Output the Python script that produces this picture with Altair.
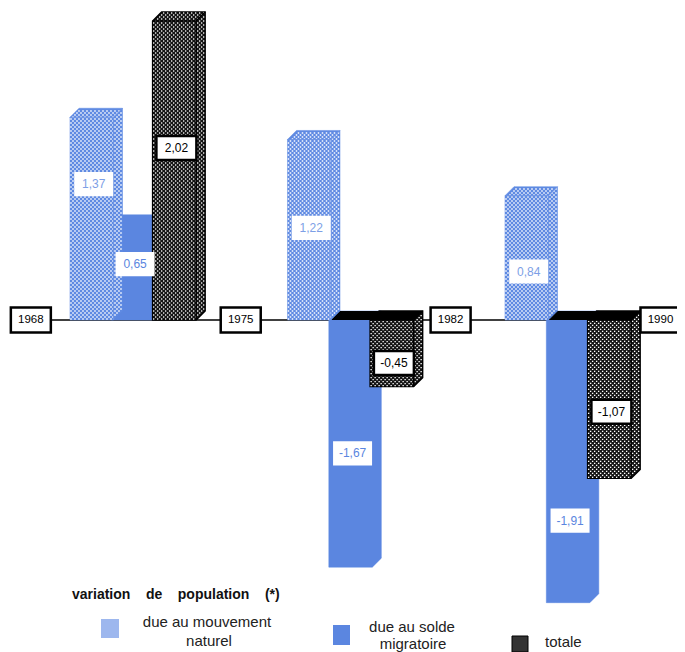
import altair as alt
import numpy as np
import pandas as pd

# ---------------- data ----------------
periods = ["1968-1975", "1975-1982", "1982-1990"]
years = ["1968", "1975", "1982", "1990"]
series = ["naturel", "migratoire", "totale"]
natural = [1.37, 1.22, 0.84]
migratory = [0.65, -1.67, -1.91]
total = [2.02, -0.45, -1.07]

# ---------------- layout ----------------
W, H = 669, 644
PXX, PXY = 217.5, 148.0          # pixels per x unit / per y unit
X0 = -0.285
XD = [X0, X0 + W / PXX]
ZERO_PX = 312
YD = [-(H - ZERO_PX) / PXY, ZERO_PX / PXY]
BW = 0.2                          # bar front width (x units)
PITCH = 0.19                      # distance between bars of a group
DPX = 9                           # 3D depth in pixels
DX = DPX / PXX
DY = DPX / PXY
# where each value box sits, as a fraction of its bar
label_frac = {"naturel": [0.67, 0.51, 0.39],
              "migratoire": [0.58, 0.54, 0.71],
              "totale": [0.575, 0.645, 0.58]}

fill = {"naturel": "#5f8ae2", "migratoire": "#5b86e0", "totale": "#141414"}
edge = {"naturel": "#6f95e4", "totale": "#000000"}
dot_size = {"naturel": 2.2, "totale": 1.8}
vals = {"naturel": natural, "migratoire": migratory, "totale": total}
textured = {"naturel", "totale"}

sil, tops, edges, labs, dots = [], [], [], [], []
bwp = BW * PXX
for p in range(len(periods)):
    for i, s in enumerate(series):
        v = vals[s][p]
        x0 = p + i * PITCH
        x1 = x0 + BW
        pid = f"{s}{p}"
        if v >= 0:
            pts = [(x0, 0, v), (x0 + DX, 0, v + DY), (x1, 0, v + DY), (x1 + DX, DY, v + DY)]
            eds = [(x0, v, x1, v), (x1, v, x1, 0), (x1, v, x1 + DX, v + DY)]
        else:
            pts = [(x0, v, 0), (x0 + DX, v, DY), (x1, v, DY), (x1 + DX, v + DY, DY)]
            tp = [(x0, 0, 0), (x0 + DX, 0, DY), (x1, 0, DY), (x1 + DX, DY, DY)]
            for (a, b, c) in tp:
                tops.append({"s": s, "id": pid, "x": a, "lo": b, "hi": c})
            eds = [(x0, 0, x1, 0), (x1, 0, x1, v), (x1, 0, x1 + DX, DY)]
        for (a, b, c) in pts:
            sil.append({"s": s, "id": pid, "x": a, "lo": b, "hi": c})
        for (a, b, c, d) in eds:
            edges.append({"s": s, "x": a, "y": b, "x2": c, "y2": d})
        labs.append({"s": s, "x": x0 + BW / 2 + 2 / PXX, "y": label_frac[s][p] * v,
                     "t": f"{v:.2f}".replace(".", ",")})
        if s in textured:
            # halftone texture of the printed bar, in pixel space inside the 3D silhouette
            V = v * PXY
            us = np.arange(1.0, bwp + DPX, 2.0)
            ws = np.arange(min(0, V) + 1.0, max(0, V) + DPX, 2.0)
            uu, ww = np.meshgrid(us, ws)
            ii, jj = np.meshgrid(np.arange(len(us)), np.arange(len(ws)))
            if V >= 0:
                lo = np.maximum(0, uu - bwp)
                hi = np.minimum(V + uu, V + DPX)
            else:
                lo = V + np.maximum(0, uu - bwp)
                hi = np.minimum(uu, DPX)
            m = ((ii + jj) % 2 == 0) & (ww > lo + 0.8) & (ww < hi - 0.8)
            for a, b in zip(uu[m], ww[m]):
                dots.append({"s": s, "x": x0 + a / PXX, "y": b / PXY})

sil = pd.DataFrame(sil)
tops = pd.DataFrame(tops)
edges = pd.DataFrame(edges)
labs = pd.DataFrame(labs)
dots = pd.DataFrame(dots)
yrs = pd.DataFrame({"year": years, "x": [0.965 * k - 0.18 for k in range(len(years))], "y": 0.0})
base_line = pd.DataFrame({"x": [yrs.x.min()], "x2": [yrs.x.max()], "y": [0.0]})

xs = alt.Scale(domain=XD, nice=False, zero=False)
ys = alt.Scale(domain=YD, nice=False, zero=False)
X = lambda f: alt.X(f"{f}:Q", scale=xs, axis=None)
Y = lambda f: alt.Y(f"{f}:Q", scale=ys, axis=None)

FONT = "Liberation Sans"
layers = []

# zero line
layers.append(alt.Chart(base_line).mark_rule(color="black", strokeWidth=1.5).encode(
    x=X("x"), x2="x2:Q", y=Y("y")))

for s in ["migratoire", "naturel", "totale"]:
    d = sil[sil.s == s]
    layers.append(alt.Chart(d).mark_area(
        color=fill[s], interpolate="linear",
        stroke="black" if s == "totale" else fill[s],
        strokeWidth=1.5 if s == "totale" else 0.5).encode(
        x=X("x"), y=Y("lo"), y2="hi:Q", detail="id:N"))
    if s in textured:
        layers.append(alt.Chart(dots[dots.s == s]).mark_square(
            size=dot_size[s], color="white", opacity=1, strokeWidth=0).encode(x=X("x"), y=Y("y")))
    t = tops[tops.s == s]
    if len(t):
        layers.append(alt.Chart(t).mark_area(color="black", interpolate="linear").encode(
            x=X("x"), y=Y("lo"), y2="hi:Q", detail="id:N"))
    if s in edge:
        e = edges[edges.s == s]
        layers.append(alt.Chart(e).mark_rule(color=edge[s], strokeWidth=1.5 if s == "totale" else 1).encode(
            x=X("x"), y=Y("y"), x2="x2:Q", y2="y2:Q"))

# value labels
lab_blue = labs[labs.s != "totale"]
lab_tot = labs[labs.s == "totale"]
layers.append(alt.Chart(lab_blue).mark_point(
    shape="M-1,-0.6H1V0.6H-1Z", filled=True, fill="white", stroke="white",
    size=1369, opacity=1).encode(x=X("x"), y=Y("y")))
layers.append(alt.Chart(lab_blue).mark_text(font=FONT, fontSize=12, baseline="middle").encode(
    x=X("x"), y=Y("y"), text="t:N",
    color=alt.Color("s:N", scale=alt.Scale(domain=["naturel", "migratoire"],
                                            range=["#7d9fe6", "#5b86e0"]), legend=None)))
layers.append(alt.Chart(lab_tot).mark_point(
    shape="M-1,-0.6H1V0.6H-1Z", filled=True, fill="white", stroke="black", strokeWidth=2.5,
    size=1600, opacity=1).encode(x=X("x"), y=Y("y")))
layers.append(alt.Chart(lab_tot).mark_text(font=FONT, fontSize=12, color="black", baseline="middle").encode(
    x=X("x"), y=Y("y"), text="t:N"))

# year boxes
layers.append(alt.Chart(yrs).mark_point(
    shape="M-1,-0.62H1V0.62H-1Z", filled=True, fill="white", stroke="black", strokeWidth=2.5,
    size=1600, opacity=1).encode(x=X("x"), y=Y("y")))
layers.append(alt.Chart(yrs).mark_text(font=FONT, fontSize=11.5, color="black", baseline="middle").encode(
    x=X("x"), y=Y("y"), text="year:N"))

# legend
one = pd.DataFrame({"a": [0]})
NB = "\u00a0" * 4
layers.append(alt.Chart(one).mark_text(
    text=f"variation{NB}de{NB}population{NB}(*)", font=FONT, fontSize=14, fontWeight="bold",
    align="left", baseline="alphabetic", color="#111111").encode(x=alt.value(64), y=alt.value(591)))
layers.append(alt.Chart(one).mark_rect(color="#9db7ee").encode(
    x=alt.value(93), x2=alt.value(111), y=alt.value(611), y2=alt.value(630)))
layers.append(alt.Chart(one).mark_rect(color=fill["migratoire"]).encode(
    x=alt.value(325), x2=alt.value(342), y=alt.value(617), y2=alt.value(637)))
layers.append(alt.Chart(one).mark_rect(color="#333333", stroke="black").encode(
    x=alt.value(504), x2=alt.value(520), y=alt.value(628), y2=alt.value(644)))
for txt, xx, yy, al in [("due au mouvement", 199, 619, "center"), ("naturel", 201, 638, "center"),
                        ("due au solde", 404, 624, "center"), ("migratoire", 405, 641, "center"),
                        ("totale", 537, 639, "left")]:
    layers.append(alt.Chart(one).mark_text(text=txt, font=FONT, fontSize=15, align=al,
                                           baseline="alphabetic",
                                           color="#222222").encode(x=alt.value(xx), y=alt.value(yy)))

chart = alt.layer(*layers).properties(
    width=W, height=H, padding=0, autosize="none"
).configure_view(stroke=None)

chart.save("out.html", embed_options={"renderer": "svg", "actions": False})
